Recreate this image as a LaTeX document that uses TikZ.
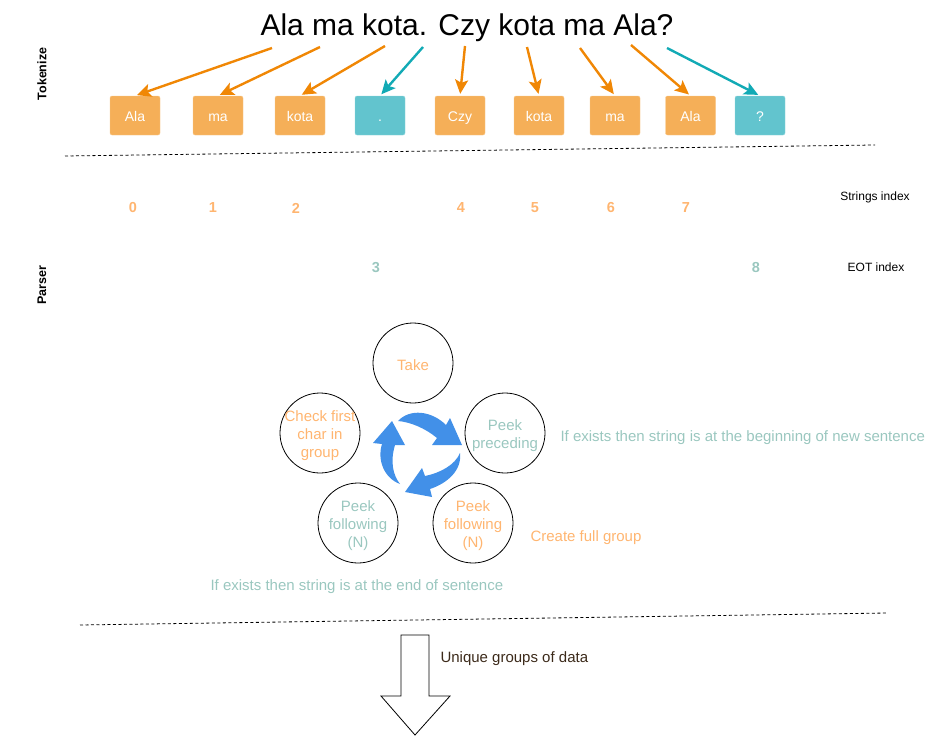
\documentclass[tikz,border=0pt]{standalone}
\usepackage{fontspec}
\setmainfont{Liberation Sans}
\usetikzlibrary{arrows.meta}
\definecolor{boxor}{HTML}{F5AF58}
\definecolor{boxte}{HTML}{62C4CE}
\definecolor{arror}{HTML}{F08705}
\definecolor{arrte}{HTML}{12AAB5}
\definecolor{txtor}{HTML}{FFB570}
\definecolor{txtte}{HTML}{9AC7BF}
\definecolor{cycblue}{HTML}{4290E8}
\definecolor{brownt}{HTML}{3C2A1A}
\tikzset{
  tokbox/.style={rectangle, rounded corners=2pt, minimum width=50pt, minimum height=39pt, inner sep=0pt, text=white, font=\fontsize{14}{16}\selectfont, text height=13pt, text depth=2pt},
  tokor/.style={tokbox, fill=boxor, draw=boxor!70!white},
  tokte/.style={tokbox, fill=boxte, draw=boxte!70!white},
  arrow/.style={line width=2.4pt, -{Stealth[length=14pt,width=13pt,inset=3pt]}, shorten >=2pt},
  aor/.style={arrow, draw=arror},
  ate/.style={arrow, draw=arrte},
  idxor/.style={text=txtor, font=\bfseries\fontsize{14.5}{16}\selectfont},
  idxte/.style={text=txtte, font=\bfseries\fontsize{14.5}{16}\selectfont},
  plain/.style={font=\fontsize{12}{14}\selectfont},
  stepcirc/.style={circle, draw=black, line width=0.8pt, minimum size=80pt, inner sep=0pt},
  circtext/.style={align=center, font=\fontsize{15}{18}\selectfont},
  sidelab/.style={font=\fontsize{15}{17}\selectfont},
  sep/.style={dash pattern=on 3pt off 2.5pt, line width=0.8pt},
  cycarrow/.style={fill=cycblue, draw=none}
}
\begin{document}
\begin{tikzpicture}[x=1pt,y=-1pt]
\useasboundingbox (0,0) rectangle (939,736);
% title
\node[font=\fontsize{30}{34}\selectfont, inner sep=0pt] (title) at (467,28) {Ala ma kota. Czy kota ma Ala?};
% side labels
\node[rotate=90, font=\bfseries\fontsize{12.5}{14}\selectfont] (tok) at (42,74) {Tokenize};
\node[rotate=90, font=\bfseries\fontsize{12.5}{14}\selectfont] (par) at (42,285) {Parser};
% token boxes
\node[tokor] (b0) at (135,115.5) {Ala};
\node[tokor] (b1) at (218,115.5) {ma};
\node[tokor] (b2) at (300,115.5) {kota};
\node[tokte] (b3) at (380,115.5) {.};
\node[tokor] (b4) at (460,115.5) {Czy};
\node[tokor] (b5) at (539,115.5) {kota};
\node[tokor] (b6) at (615,115.5) {ma};
\node[tokor] (b7) at (690.5,115.5) {Ala};
\node[tokte] (b8) at (760,115.5) {?};
% arrow starts
\coordinate (s0) at (272,48);
\coordinate (s1) at (320,47);
\coordinate (s2) at (385,46);
\coordinate (s3) at (423,47);
\coordinate (s4) at (465,46);
\coordinate (s5) at (527,47);
\coordinate (s6) at (580,48);
\coordinate (s7) at (631,45);
\coordinate (s8) at (667,48);
\draw[aor] (s0) -- (b0.north);
\draw[aor] (s1) -- (b1.north);
\draw[aor] (s2) -- (b2.north);
\draw[ate] (s3) -- (b3.north);
\draw[aor] (s4) -- (b4.north);
\draw[aor] (s5) -- (b5.north);
\draw[aor] (s6) -- (b6.north);
\draw[aor] (s7) -- (b7.north);
\draw[ate] (s8) -- (b8.north);
% separators
\coordinate (d1a) at (65,156);
\coordinate (d1b) at (875,145);
\draw[sep] (d1a) -- (d1b);
\coordinate (d2a) at (80,625);
\coordinate (d2b) at (887,613);
\draw[sep] (d2a) -- (d2b);
% indexes
\node[idxor] (i0) at (133,208) {0};
\node[idxor] (i1) at (213,208) {1};
\node[idxor] (i2) at (296,208) {2};
\node[idxor] (i4) at (461,208) {4};
\node[idxor] (i5) at (535,208) {5};
\node[idxor] (i6) at (611,208) {6};
\node[idxor] (i7) at (686,208) {7};
\node[idxte] (i3) at (376,268) {3};
\node[idxte] (i8) at (756,268) {8};
\node[plain] (sidx) at (875,197) {Strings index};
\node[plain] (eidx) at (876,267) {EOT index};
% circles
\node[stepcirc] (take) at (413,363) {};
\node[circtext, text=txtor] (taket) at (413,365.5) {Take};
\node[stepcirc] (check) at (320,433) {};
\node[circtext, text=txtor] (checkt) at (320,435.5) {Check first\\char in\\group};
\node[stepcirc] (prec) at (505,433) {};
\node[circtext, text=txtte] (prect) at (505,436) {Peek\\preceding};
\node[stepcirc] (follt) at (358,523) {};
\node[circtext, text=txtte] (folltt) at (358,525.5) {Peek\\following\\(N)};
\node[stepcirc] (follo) at (473,523) {};
\node[circtext, text=txtor] (follot) at (473,525.5) {Peek\\following\\(N)};
\node[sidelab, text=txtte, anchor=west] (l1) at (557,437.5) {If exists then string is at the beginning of new sentence};
\node[sidelab, text=txtor, anchor=west] (l2) at (527,537.5) {Create full group};
\node[sidelab, text=txtte, anchor=west] (l3) at (207,586.5) {If exists then string is at the end of sentence};
% cycle arrows
\fill[cycarrow] (398,421) .. controls (410,408) and (432,411) .. (446,425) -- (450,418) -- (462,445) -- (432,445) -- (437,438) .. controls (425,428) and (410,422) .. (398,421) -- cycle;
\fill[cycarrow] (460,453) .. controls (462,470) and (448,483) .. (430,489) -- (432,497) -- (405,492) -- (422,468) -- (425,476) .. controls (440,473) and (455,465) .. (460,453) -- cycle;
\fill[cycarrow] (400,484) .. controls (384,478) and (377,460) .. (382,444) -- (373,443) -- (392,421) -- (405,445) -- (395,445) .. controls (390,462) and (393,475) .. (400,484) -- cycle;
% output arrow
\draw[line width=0.8pt, fill=white] (401,635) -- (429,635) -- (429,696) -- (450,696) -- (415,735) -- (381,696) -- (401,696) -- cycle;
\node[font=\fontsize{15}{17}\selectfont, text=brownt, anchor=west] (uniq) at (437,659) {Unique groups of data};
\end{tikzpicture}
\end{document}
